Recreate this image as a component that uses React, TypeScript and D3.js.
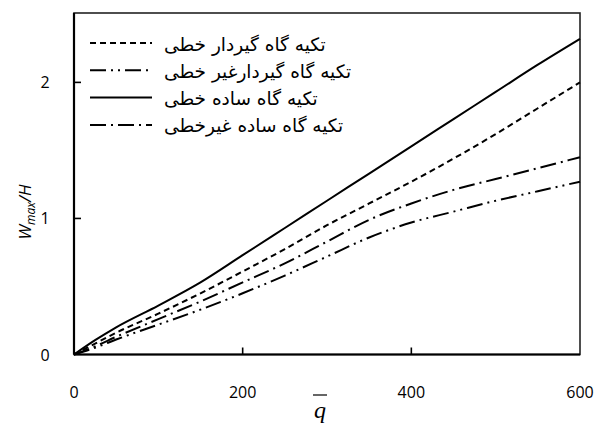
import React from "react";
import * as d3 from "d3";

const qValues = [0, 25, 50, 100, 150, 200, 250, 300, 350, 400, 450, 500, 550, 600];
const clampedLinear = [0, 0.08, 0.16, 0.3, 0.45, 0.61, 0.775, 0.95, 1.11, 1.27, 1.44, 1.62, 1.81, 2.0];
const clampedNonlinear = [0, 0.05, 0.11, 0.22, 0.33, 0.45, 0.58, 0.72, 0.86, 0.97, 1.05, 1.13, 1.2, 1.27];
const simpleLinear = [0, 0.105, 0.2, 0.36, 0.53, 0.73, 0.93, 1.13, 1.33, 1.53, 1.73, 1.93, 2.13, 2.32];
const simpleNonlinear = [0, 0.06, 0.13, 0.26, 0.39, 0.53, 0.67, 0.83, 0.99, 1.11, 1.21, 1.29, 1.37, 1.45];

const xTicks = [0, 200, 400, 600];
const yTicks = [0, 1, 2];

const seriesNames = [
  "تکیه گاه گیردار خطی",
  "تکیه گاه گیردارغیر خطی",
  "تکیه گاه ساده خطی",
  "تکیه گاه ساده غیرخطی",
];
const seriesData = [clampedLinear, clampedNonlinear, simpleLinear, simpleNonlinear];
const dashes = ["6,4", "16,5,2,5,2,5", "", "16,5,2,5"];

export default function App() {
  const W = 595, H = 426;
  const left = 74, right = 580, top = 13, bottom = 354.5;
  const x = d3.scaleLinear().domain([0, 600]).range([left, right]);
  const y = d3.scaleLinear().domain([0, 2.51]).range([bottom, top]);
  const line = d3.line<number>().x((_, i) => x(qValues[i])).y((d) => y(d)).curve(d3.curveMonotoneX);
  const tickFont = "'Open Sans', sans-serif";
  return (
    <svg width={W} height={H} style={{ position: "absolute", left: 0, top: 0, background: "#fff" }}>
      <rect x={left} y={top} width={right - left} height={bottom - top} fill="none" stroke="#222" strokeWidth={1.6} />
      {seriesData.map((s, i) => (
        <path key={i} d={line(s) || ""} fill="none" stroke="#000" strokeWidth={2} strokeDasharray={dashes[i]} />
      ))}
      <line x1={left} x2={left} y1={top} y2={bottom} stroke="#000" strokeWidth={2.2} />
      <line x1={left} x2={right} y1={bottom} y2={bottom} stroke="#000" strokeWidth={2.2} />
      {xTicks.slice(1, -1).map((t) => (
        <line key={t} x1={x(t)} x2={x(t)} y1={bottom} y2={bottom - 7} stroke="#000" strokeWidth={1.6} />
      ))}
      {yTicks.slice(1).map((t) => (
        <line key={t} x1={left} x2={left + 7} y1={y(t)} y2={y(t)} stroke="#000" strokeWidth={1.6} />
      ))}
      {xTicks.map((t) => (
        <text key={t} x={x(t)} y={392} fontFamily={tickFont} fontSize={16} textAnchor="middle" dominantBaseline="central">{t}</text>
      ))}
      {yTicks.map((t) => (
        <text key={t} x={45} y={y(t)} fontFamily={tickFont} fontSize={16} textAnchor="middle" dominantBaseline="central">{t}</text>
      ))}
      <text transform={`translate(31,212) rotate(-90)`} fontFamily={tickFont} fontSize={17} textAnchor="middle" fontStyle="italic">
        W<tspan fontSize={12} dy={4}>max</tspan><tspan dy={-4}>/H</tspan>
      </text>
      <line x1={313} x2={327} y1={395} y2={395} stroke="#000" strokeWidth={1.2} />
      <text x={320} y={418} fontFamily="'Liberation Serif', serif" fontStyle="italic" fontSize={24} textAnchor="middle">q</text>
      {seriesNames.map((n, i) => {
        const yy = 43 + i * 27.3;
        return (
          <g key={i}>
            <line x1={90} x2={152} y1={yy} y2={yy} stroke="#000" strokeWidth={2} strokeDasharray={dashes[i]} />
            <text x={164} y={yy + 1} fontFamily="'DejaVu Sans', sans-serif" fontSize={18.5} dominantBaseline="central" textAnchor="start">{n}</text>
          </g>
        );
      })}
    </svg>
  );
}
